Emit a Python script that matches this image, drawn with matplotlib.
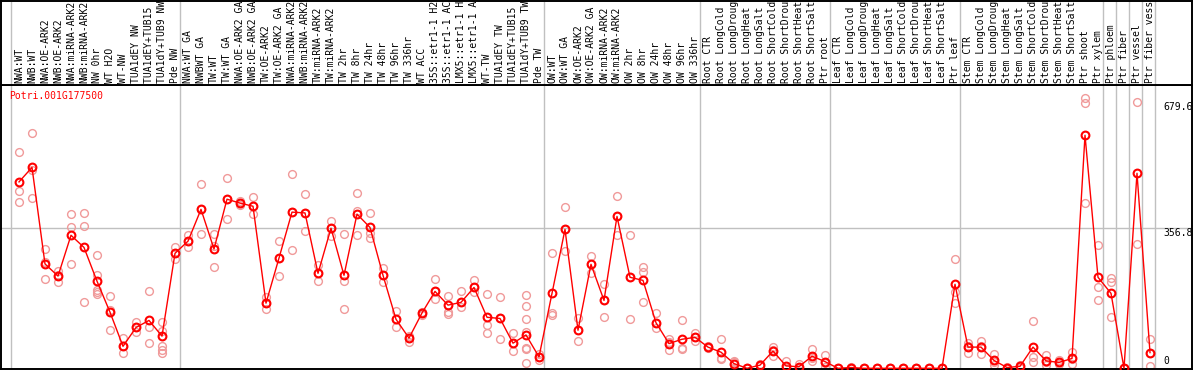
import matplotlib
matplotlib.use("Agg")
import matplotlib.pyplot as plt

gene_name = "Potri.001G177500"

sample_labels = [
    "NWA:WT", "NWB:WT", "NWA:OE-ARK2", "NWB:OE-ARK2", "NWA:miRNA-ARK2", "NWB:miRNA-ARK2",
    "NW 0hr", "WT H2O", "WT-NW", "TUA1dEY NW", "TUA1dEY+TUB15 NW", "TUA1dY+TUB9 NW", "Pde NW",
    "NWA:WT GA", "NWBWT GA", "TW:WT", "TW:WT GA", "NWA:OE-ARK2 GA", "NWB:OE-ARK2 GA",
    "TW:OE-ARK2", "TW:OE-ARK2 GA", "NWA:miRNA-ARK2 GA", "NWB:miRNA-ARK2 GA", "TW:miRNA-ARK2",
    "TW:miRNA-ARK2", "TW 2hr", "TW 8hr", "TW 24hr", "TW 48hr", "TW 96hr", "TW 336hr", "WT ACC",
    "35S::etr1-1 H2O", "35S::etr1-1 ACC", "LMX5::etr1-1 H2O", "LMX5::etr1-1 ACC", "WT-TW",
    "TUA1dEY TW", "TUA1dEY+TUB15 TW", "TUA1dY+TUB9 TW", "Pde TW",
    "OW:WT", "OW:WT GA", "OW:OE-ARK2", "OW:OE-ARK2 GA", "OW:miRNA-ARK2", "OW:miRNA-ARK2",
    "OW 2hr", "OW 8hr", "OW 24hr", "OW 48hr", "OW 96hr", "OW 336hr",
    "Root CTR", "Root LongCold", "Root LongDrought", "Root LongHeat", "Root LongSalt",
    "Root ShortCold", "Root ShortDrought", "Root ShortHeat", "Root ShortSalt", "Ptr root",
    "Leaf CTR", "Leaf LongCold", "Leaf LongDrought", "Leaf LongHeat", "Leaf LongSalt",
    "Leaf ShortCold", "Leaf ShortDrought", "Leaf ShortHeat", "Leaf ShortSalt", "Ptr leaf",
    "Stem CTR", "Stem LongCold", "Stem LongDrought", "Stem LongHeat", "Stem LongSalt",
    "Stem ShortCold", "Stem ShortDrought", "Stem ShortHeat", "Stem ShortSalt", "Ptr shoot",
    "Ptr xylem", "Ptr phloem", "Ptr fiber", "Ptr vessel", "Ptr fiber vessel",
]

mean_values = [
    475, 512, 266, 235, 339, 308, 222, 143, 56, 104, 122, 82, 293,
    324, 405, 304, 431, 421, 413, 166, 281, 398, 396, 242, 357, 237, 393, 359, 237, 125,
    77, 141, 196, 161, 168, 206, 130, 127, 64, 85, 29,
    191, 354, 97, 265, 173, 387, 232, 224, 116, 63, 74, 79,
    54, 41, 12, 0, 8, 44, 6, 4, 31, 17,
    0, 2, 0, 0, 0, 0, 0, 0, 0, 214,
    54, 54, 20, 2, 5, 54, 19, 15, 25, 594,
    232, 191, 0, 497, 40,
]

replicate_values = [
    [550, 451, 424], [599, 505, 433], [304, 272, 227], [249, 219, 237], [393, 360, 265],
    [396, 362, 168], [288, 238, 200, 194, 189], [184, 148, 97], [76, 38, 56], [117, 92, 104],
    [196, 104, 64], [119, 96, 57, 47, 38], [308, 279, 293],
    [340, 308, 324], [469, 342, 405], [343, 311, 258], [484, 380, 431], [426, 421, 416],
    [437, 392, 413], [182, 151, 166], [324, 234, 281], [494, 301, 398], [443, 350, 396],
    [263, 223, 242], [375, 336, 357], [342, 223, 151], [447, 401, 340], [395, 344, 333],
    [256, 219, 237], [145, 104, 125], [83, 68, 77], [144, 136, 141], [228, 177, 196],
    [184, 144, 139], [197, 155, 168], [226, 194, 207], [189, 110, 89], [182, 74, 127],
    [89, 44, 64], [187, 159, 125, 92, 51, 48, 13], [36, 20, 29],
    [294, 142, 136], [410, 299, 354], [127, 69, 97], [285, 244, 265], [214, 130, 173],
    [438, 339, 387], [340, 125, 232], [258, 245, 168], [140, 102, 116], [68, 47, 74],
    [122, 51, 49], [89, 70, 79],
    [57, 51, 54], [74, 24, 25], [17, 0, 19], [0, 0, 0], [8, 5, 11], [53, 32, 47],
    [19, 0, 0], [12, 0, 0], [48, 19, 26], [34, 4, 13],
    [0, 0, 0], [4, 2, 0], [0, 0, 0], [0, 0, 0], [0, 0, 0], [0, 0, 0], [0, 0, 0],
    [0, 0, 0], [0, 0, 0], [278, 194, 167],
    [64, 40, 58], [70, 36, 56], [36, 8, 16], [2, 0, 4], [5, 2, 8], [120, 30, 17],
    [34, 8, 15], [20, 10, 15], [41, 10, 24], [688, 675, 420],
    [313, 207, 174], [229, 219, 132], [0, 0, 0], [678, 316], [74, 6, 40],
]

group_last_index = [-1, 12, 40, 52, 62, 72, 83, 84, 85, 86, 87]
axis_tick_values = [679.6, 356.8, 0]
axis_tick_labels = ["679.6", "356.8", "0"]

W, H = 1194, 370
fig = plt.figure(figsize=(W / 100, H / 100), dpi=100)
mono = "DejaVu Sans Mono"
fs = 7.0
grid_c = "#c0c0c0"
rep_c = "#f09a9a"

x_left = (1 - 19) / 13
x_right = (1192 - 19) / 13

ax = fig.add_axes([1 / W, 1 / H, 1191 / W, 284 / H])
hdr = fig.add_axes([1 / W, 285 / H, 1191 / W, 84.5 / H])

for a in (ax, hdr):
    a.set_xlim(x_left, x_right)
    a.set_xticks([])
    a.set_yticks([])
    for s in a.spines.values():
        s.set_color("black")
        s.set_linewidth(1.4)
    for g in group_last_index:
        a.axvline(g + 0.4, color=grid_c, lw=1.0, zorder=0)

ax.set_ylim(-1.8, 722)
ax.axhline(axis_tick_values[1], color=grid_c, lw=1.0, zorder=0)

xs = list(range(len(sample_labels)))
for i, reps in enumerate(replicate_values):
    ax.plot([i] * len(reps), reps, linestyle="none", marker="o", markersize=5.6,
            mfc="none", mec=rep_c, mew=1.0, zorder=2, clip_on=False)
ax.plot(xs, mean_values, color="red", lw=1.0, zorder=3)
ax.plot(xs, mean_values, linestyle="none", marker="o", markersize=5.6,
        mfc="none", mec="red", mew=1.5, zorder=4, clip_on=False)

ax.text(-0.77, 706, gene_name, color="red", fontsize=fs, family=mono,
        va="top", ha="left")

for v, t in zip(axis_tick_values, axis_tick_labels):
    if v == 0:
        ax.text(88.0, 7, t, fontsize=fs, family=mono, va="bottom", ha="left")
    else:
        ax.text(88.0, v, t, fontsize=fs, family=mono, va="top", ha="left")

hdr.set_ylim(0, 84.5)
for i, lab in enumerate(sample_labels):
    hdr.text(i, 2, lab, rotation=90, fontsize=fs, family=mono, va="bottom",
             ha="center", clip_on=True)

fig.savefig("out.png", dpi=100)
